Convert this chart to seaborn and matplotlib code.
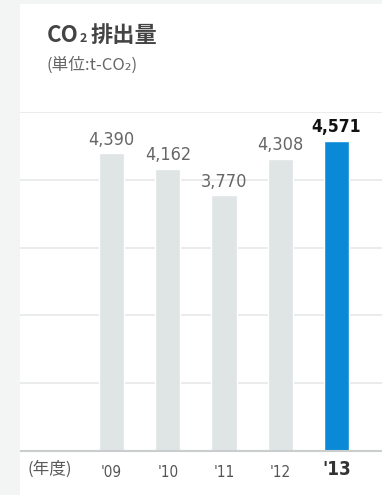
import matplotlib
matplotlib.use("Agg")
import matplotlib.pyplot as plt
from matplotlib.patches import Rectangle
from matplotlib import font_manager
import seaborn as sns
import pandas as pd

years = ["'09", "'10", "'11", "'12", "'13"]
emissions = [4390, 4162, 3770, 4308, 4571]
bar_colors = ["#dfe4e4", "#dfe4e4", "#dfe4e4", "#dfe4e4", "#0a8ad6"]

sns.set_theme(style="white")

# prefer a narrow face for the numbers when one is installed
names = {f.name for f in font_manager.fontManager.ttflist}
num_family = "Liberation Sans Narrow" if "Liberation Sans Narrow" in names else "DejaVu Sans"
num_stretch = "normal" if num_family == "Liberation Sans Narrow" else "condensed"
plt.rcParams["font.family"] = [num_family, "Liberation Sans", "DejaVu Sans"]

W, H = 382, 495
fig = plt.figure(figsize=(W / 100, H / 100), dpi=100, facecolor="white")

# light gray frame on the left and top edges
fig.patches.append(Rectangle((0, 0), 20 / W, 1, transform=fig.transFigure,
                             facecolor="#f3f5f5", edgecolor="none", zorder=0))
fig.patches.append(Rectangle((0, 1 - 4 / H), 1, 4 / H, transform=fig.transFigure,
                             facecolor="#f3f5f5", edgecolor="none", zorder=0))

ax_bottom = 1 - 451 / H
ax_top = 1 - 112 / H
ax = fig.add_axes([20 / W, ax_bottom, 1 - 20 / W, ax_top - ax_bottom])
ax.set_facecolor("none")

df = pd.DataFrame({"year": years, "value": emissions})
sns.barplot(data=df, x="year", y="value", hue="year", palette=bar_colors,
            width=0.445, legend=False, ax=ax, saturation=1)

ax.set_ylim(0, 5000)
ax.set_xlim(-1.627, 4.809)
ax.set_yticks([1000, 2000, 3000, 4000, 5000])
ax.yaxis.grid(True, color="#e6e9e9", linewidth=1.2)
ax.set_axisbelow(True)
for s in ["top", "right", "left"]:
    ax.spines[s].set_visible(False)
ax.spines["bottom"].set_color("#c9cdcd")
ax.spines["bottom"].set_linewidth(1.5)
ax.tick_params(axis="y", left=False, labelleft=False)
ax.tick_params(axis="x", bottom=False, labelbottom=False)
ax.set_xlabel("")
ax.set_ylabel("")

last = len(years) - 1
for i, (yr, v) in enumerate(zip(years, emissions)):
    if i == last:
        ax.text(i, v + 70, f"{v:,}", ha="center", va="bottom", fontsize=12.5,
                fontweight="bold", color="#111111", fontstretch=num_stretch)
        ax.text(i, -140, yr, ha="center", va="top", fontsize=13.5,
                fontweight="bold", color="#333333", fontstretch=num_stretch)
    else:
        ax.text(i, v + 70, f"{v:,}", ha="center", va="bottom", fontsize=13,
                color="#666666", fontstretch=num_stretch)
        ax.text(i, -200, yr, ha="center", va="top", fontsize=11,
                color="#555555", fontstretch=num_stretch)

cjk = ["Noto Sans CJK JP", "DejaVu Sans"]
fig.text(27 / W, 1 - 469 / H, "(年度)", ha="left", va="center", fontsize=12,
         color="#5a5a5a", family=cjk)

fig.text(47 / W, 1 - 36 / H, "CO", ha="left", va="center", fontsize=16,
         fontweight="bold", color="#444444", family=cjk)
fig.text(80 / W, 1 - 38 / H, "2", ha="left", va="center", fontsize=9,
         fontweight="bold", color="#444444", family=cjk)
fig.text(91 / W, 1 - 36 / H, "排出量", ha="left", va="center", fontsize=16,
         fontweight="bold", color="#444444", family=cjk)
fig.text(47 / W, 1 - 65 / H, "(単位:t-CO₂)", ha="left", va="center", fontsize=12,
         color="#666666", family=cjk)

fig.savefig("out.png", dpi=100, facecolor="white")
